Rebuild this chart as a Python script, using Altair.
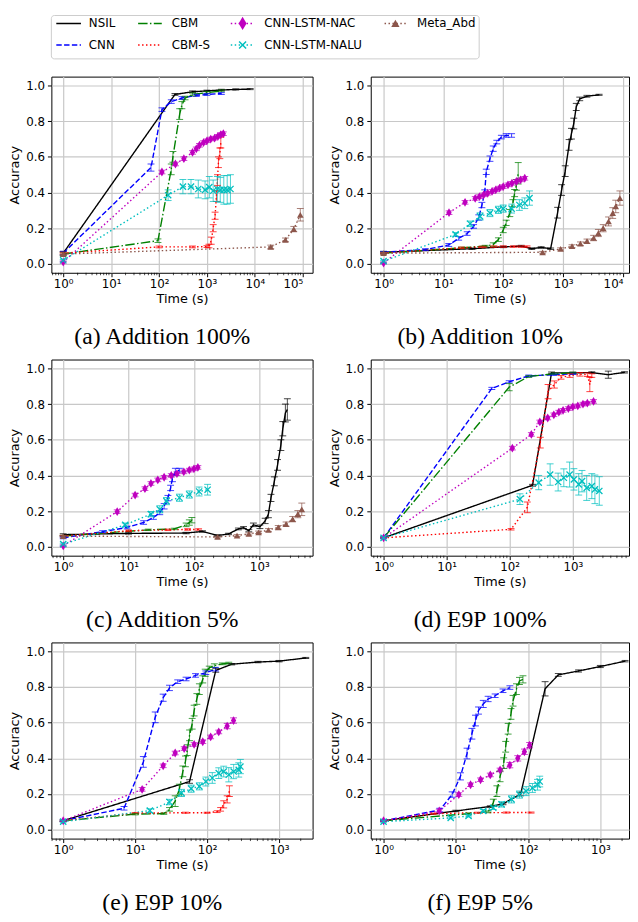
import altair as alt
import pandas as pd

# ---------------- series definitions ----------------
SERIES = ["NSIL", "CNN", "CBM", "CBM-S", "CNN-LSTM-NAC", "CNN-LSTM-NALU", "Meta_Abd"]
COLORS = ["#000000", "#0000ff", "#008000", "#ff0000", "#bf00bf", "#00bfbf", "#8c564b"]
DASHES = [[1, 0], [5.5, 2.4], [9.6, 2.4, 1.5, 2.4], [1.5, 2.5], [1.5, 2.5], [1.5, 2.5], [1.5, 2.5]]

# ---------------- data: (time s, accuracy, error) ----------------
A_NSIL = [(1, 0.06, 0.01), (215, 0.95, 0.005), (500, 0.965, 0.005), (1000, 0.97, 0.004), (2000, 0.975, 0.004), (4000, 0.978, 0.003), (8000, 0.98, 0.003)]
A_CNN = [(1, 0.06, 0.01), (68, 0.54, 0.02), (115, 0.865, 0.01), (180, 0.91, 0.01), (300, 0.93, 0.008), (600, 0.945, 0.006), (1000, 0.95, 0.005), (2000, 0.955, 0.005)]
A_CBM = [(1, 0.055, 0.01), (95, 0.13, 0.01), (180, 0.53, 0.03), (195, 0.60, 0.03), (270, 0.84, 0.03), (300, 0.89, 0.02), (350, 0.93, 0.01), (500, 0.95, 0.008), (1000, 0.96, 0.006), (2000, 0.97, 0.005)]
A_CBMS = [(1, 0.06, 0.005), (100, 0.095, 0.005), (500, 0.095, 0.005), (1000, 0.097, 0.005), (1100, 0.10, 0.01), (1230, 0.13, 0.02), (1350, 0.20, 0.02), (1480, 0.27, 0.02), (1580, 0.38, 0.03), (1660, 0.47, 0.03), (1740, 0.57, 0.03), (1860, 0.62, 0.03), (1950, 0.68, 0.03)]
A_NAC = [(1, 0.01, 0.005), (115, 0.515, 0.01), (220, 0.56, 0.01), (330, 0.59, 0.01), (500, 0.625, 0.01), (600, 0.645, 0.01), (700, 0.665, 0.01), (850, 0.68, 0.01), (1000, 0.69, 0.01), (1200, 0.70, 0.01), (1450, 0.705, 0.01), (1700, 0.715, 0.01), (1950, 0.725, 0.01), (2200, 0.73, 0.01)]
A_NALU = [(1, 0.02, 0.005), (155, 0.385, 0.03), (315, 0.433, 0.04), (465, 0.433, 0.04), (660, 0.42, 0.05), (915, 0.415, 0.05), (1120, 0.43, 0.06), (1350, 0.41, 0.06), (1650, 0.42, 0.07), (1900, 0.415, 0.07), (2250, 0.415, 0.08), (2650, 0.415, 0.08), (3100, 0.42, 0.08)]
A_META = [(1, 0.055, 0.005), (21500, 0.095, 0.01), (43500, 0.135, 0.01), (65000, 0.195, 0.015), (89000, 0.275, 0.035)]

B_NSIL = [(1, 0.065, 0.005), (30, 0.085, 0.004), (100, 0.095, 0.004), (200, 0.1, 0.004), (300, 0.085, 0.004), (430, 0.092, 0.004), (620, 0.085, 0.004), (810, 0.287, 0.03), (945, 0.414, 0.03), (1085, 0.52, 0.03), (1260, 0.667, 0.03), (1380, 0.73, 0.03), (1510, 0.787, 0.03), (1660, 0.88, 0.02), (1900, 0.925, 0.01), (2500, 0.94, 0.005), (4000, 0.948, 0.003)]
B_CNN = [(1, 0.065, 0.005), (5, 0.08, 0.005), (12.3, 0.106, 0.008), (18, 0.143, 0.01), (25, 0.17, 0.01), (32, 0.21, 0.01), (39, 0.26, 0.015), (44, 0.33, 0.015), (49, 0.40, 0.015), (52, 0.516, 0.015), (60, 0.59, 0.015), (68, 0.646, 0.015), (78, 0.683, 0.01), (93, 0.711, 0.01), (112, 0.72, 0.01), (138, 0.72, 0.01)]
B_CBM = [(1, 0.06, 0.005), (20, 0.09, 0.004), (50, 0.1, 0.004), (68, 0.108, 0.01), (83, 0.136, 0.01), (100, 0.19, 0.015), (112, 0.23, 0.015), (129, 0.285, 0.02), (145, 0.34, 0.02), (155, 0.397, 0.02), (166, 0.443, 0.03), (178, 0.508, 0.06)]
B_CBMS = [(1, 0.06, 0.004), (20, 0.09, 0.004), (45, 0.095, 0.004), (70, 0.097, 0.004), (100, 0.097, 0.004), (150, 0.097, 0.004), (200, 0.097, 0.004), (250, 0.097, 0.004)]
B_NAC = [(1, 0.005, 0.004), (12.4, 0.287, 0.01), (23, 0.345, 0.01), (34, 0.367, 0.01), (40, 0.377, 0.01), (47, 0.387, 0.01), (55, 0.396, 0.01), (65, 0.406, 0.01), (75, 0.415, 0.01), (87, 0.425, 0.01), (100, 0.433, 0.01), (120, 0.443, 0.01), (140, 0.452, 0.01), (166, 0.462, 0.01), (195, 0.471, 0.01), (229, 0.48, 0.01)]
B_NALU = [(1, 0.015, 0.005), (16, 0.165, 0.01), (28, 0.225, 0.015), (41, 0.266, 0.02), (60, 0.285, 0.02), (83, 0.303, 0.02), (100, 0.31, 0.02), (138, 0.31, 0.025), (186, 0.33, 0.03), (229, 0.34, 0.03), (275, 0.369, 0.04)]
B_META = [(1, 0.06, 0.004), (455, 0.065, 0.005), (910, 0.084, 0.006), (1410, 0.099, 0.008), (1950, 0.113, 0.01), (2510, 0.127, 0.012), (3240, 0.145, 0.015), (3890, 0.173, 0.02), (4680, 0.2, 0.02), (5750, 0.238, 0.025), (6760, 0.285, 0.03), (7590, 0.322, 0.035), (8910, 0.369, 0.04)]

C_NSIL = [(1, 0.068, 0.005), (10, 0.075, 0.004), (76, 0.077, 0.004), (135, 0.086, 0.004), (229, 0.063, 0.004), (339, 0.072, 0.004), (479, 0.1, 0.005), (575, 0.107, 0.006), (692, 0.09, 0.006), (813, 0.123, 0.01), (1023, 0.112, 0.01), (1230, 0.145, 0.015), (1380, 0.183, 0.02), (1510, 0.274, 0.02), (1700, 0.367, 0.025), (1905, 0.459, 0.03), (2140, 0.57, 0.03), (2290, 0.662, 0.04), (2510, 0.75, 0.05), (2690, 0.77, 0.06)]
C_CNN = [(1, 0.05, 0.005), (4, 0.085, 0.005), (9.5, 0.108, 0.008), (17, 0.136, 0.01), (24, 0.164, 0.01), (30, 0.19, 0.01), (35, 0.227, 0.015), (40, 0.273, 0.015), (44, 0.33, 0.015), (47, 0.385, 0.02), (52, 0.42, 0.02), (60, 0.43, 0.01)]
C_CBM = [(1, 0.06, 0.004), (20, 0.095, 0.004), (50, 0.1, 0.004), (76, 0.123, 0.01), (85, 0.136, 0.015), (93, 0.149, 0.015)]
C_CBMS = [(1, 0.06, 0.004), (10, 0.09, 0.004), (40, 0.095, 0.004), (80, 0.097, 0.004), (118, 0.097, 0.004)]
C_NAC = [(1, 0.005, 0.004), (6.7, 0.197, 0.01), (12.6, 0.29, 0.01), (17.8, 0.326, 0.01), (22, 0.355, 0.01), (28, 0.375, 0.01), (35, 0.39, 0.01), (45, 0.40, 0.01), (55, 0.41, 0.01), (70, 0.42, 0.01), (85, 0.43, 0.01), (100, 0.437, 0.01), (115, 0.445, 0.01)]
C_NALU = [(1, 0.015, 0.005), (8.9, 0.123, 0.01), (22, 0.183, 0.015), (30, 0.21, 0.02), (38, 0.256, 0.02), (60, 0.275, 0.02), (85, 0.293, 0.02), (120, 0.31, 0.025), (162, 0.32, 0.03)]
C_META = [(1, 0.06, 0.004), (230, 0.055, 0.005), (457, 0.063, 0.005), (692, 0.072, 0.006), (977, 0.081, 0.007), (1380, 0.094, 0.008), (1950, 0.109, 0.01), (2570, 0.127, 0.012), (3240, 0.155, 0.015), (3890, 0.183, 0.02), (4470, 0.21, 0.035)]

D_NSIL = [(1, 0.05, 0.004), (230, 0.345, 0.005), (460, 0.975, 0.005), (1000, 0.975, 0.004), (2000, 0.977, 0.004), (3650, 0.965, 0.02), (6600, 0.978, 0.004)]
D_CNN = [(1, 0.05, 0.004), (52, 0.888, 0.006), (98, 0.925, 0.006), (200, 0.958, 0.005), (500, 0.965, 0.004), (1000, 0.97, 0.004)]
D_CBM = [(1, 0.05, 0.004), (98, 0.895, 0.02), (200, 0.955, 0.005), (500, 0.97, 0.004), (1000, 0.975, 0.004)]
D_CBMS = [(1, 0.05, 0.004), (105, 0.098, 0.004), (190, 0.221, 0.03), (305, 0.584, 0.03), (405, 0.87, 0.04), (510, 0.91, 0.02), (650, 0.95, 0.01), (900, 0.96, 0.01), (1300, 0.967, 0.01), (1700, 0.965, 0.01), (1860, 0.91, 0.04), (2000, 0.96, 0.01)]
D_NAC = [(1, 0.05, 0.004), (110, 0.553, 0.01), (220, 0.63, 0.01), (300, 0.70, 0.01), (400, 0.722, 0.01), (500, 0.74, 0.01), (600, 0.755, 0.01), (700, 0.765, 0.01), (850, 0.775, 0.01), (1000, 0.785, 0.01), (1200, 0.79, 0.01), (1450, 0.80, 0.01), (1700, 0.805, 0.01), (2130, 0.815, 0.01)]
D_NALU = [(1, 0.05, 0.004), (145, 0.267, 0.03), (288, 0.36, 0.04), (437, 0.405, 0.06), (585, 0.363, 0.05), (720, 0.387, 0.05), (890, 0.405, 0.07), (1040, 0.378, 0.06), (1240, 0.35, 0.06), (1400, 0.368, 0.06), (1660, 0.33, 0.07), (2000, 0.34, 0.07), (2240, 0.322, 0.08), (2630, 0.313, 0.08)]

E_NSIL = [(1, 0.05, 0.004), (57, 0.27, 0.01), (132, 0.893, 0.01), (220, 0.928, 0.004), (510, 0.94, 0.004), (1000, 0.945, 0.004), (2350, 0.963, 0.003)]
E_CNN = [(1, 0.05, 0.004), (7, 0.12, 0.01), (13, 0.38, 0.03), (19, 0.63, 0.03), (24.5, 0.74, 0.02), (30, 0.795, 0.015), (39, 0.83, 0.01), (51, 0.845, 0.01), (69, 0.865, 0.01), (96, 0.88, 0.01), (131, 0.9, 0.01)]
E_CBM = [(1, 0.05, 0.004), (10, 0.087, 0.004), (25, 0.09, 0.004), (30, 0.114, 0.01), (36, 0.16, 0.03), (41, 0.225, 0.03), (46, 0.327, 0.03), (50, 0.383, 0.03), (53, 0.446, 0.03), (57, 0.529, 0.03), (62, 0.594, 0.03), (66, 0.668, 0.03), (72, 0.733, 0.03), (78, 0.788, 0.03), (87, 0.843, 0.02), (94, 0.88, 0.02), (107, 0.907, 0.01), (126, 0.92, 0.01), (162, 0.93, 0.005), (200, 0.934, 0.005)]
E_CBMS = [(1, 0.05, 0.004), (10, 0.093, 0.003), (50, 0.095, 0.003), (100, 0.095, 0.003), (138, 0.101, 0.005), (154, 0.114, 0.01), (170, 0.142, 0.02), (190, 0.17, 0.02), (204, 0.216, 0.03)]
E_NAC = [(1, 0.05, 0.004), (12.5, 0.226, 0.01), (24.5, 0.358, 0.01), (36, 0.43, 0.01), (48, 0.455, 0.01), (66, 0.478, 0.01), (87, 0.493, 0.01), (112, 0.52, 0.01), (145, 0.548, 0.01), (190, 0.581, 0.015), (233, 0.612, 0.015)]
E_NALU = [(1, 0.045, 0.004), (16, 0.107, 0.01), (30, 0.155, 0.015), (44, 0.206, 0.02), (60, 0.23, 0.02), (78, 0.243, 0.02), (96, 0.27, 0.025), (118, 0.29, 0.03), (145, 0.317, 0.03), (170, 0.326, 0.03), (200, 0.308, 0.04), (234, 0.326, 0.04), (275, 0.335, 0.04), (290, 0.354, 0.04)]

F_NSIL = [(1, 0.05, 0.004), (10, 0.105, 0.004), (30, 0.13, 0.004), (45, 0.145, 0.005), (79, 0.2, 0.01), (172, 0.79, 0.04), (262, 0.868, 0.008), (500, 0.89, 0.006), (1000, 0.915, 0.006), (2200, 0.945, 0.004)]
F_CNN = [(1, 0.05, 0.004), (6, 0.11, 0.01), (8.9, 0.197, 0.015), (11.6, 0.299, 0.02), (14.3, 0.427, 0.03), (16.7, 0.538, 0.03), (18.7, 0.612, 0.03), (20.6, 0.668, 0.02), (24, 0.705, 0.02), (28, 0.733, 0.015), (35, 0.751, 0.01), (45, 0.779, 0.01), (56, 0.797, 0.01)]
F_CBM = [(1, 0.05, 0.004), (15, 0.09, 0.004), (28, 0.1, 0.005), (33, 0.151, 0.02), (37, 0.216, 0.03), (41, 0.299, 0.03), (46, 0.373, 0.03), (49, 0.465, 0.03), (53, 0.566, 0.03), (58, 0.649, 0.03), (62, 0.723, 0.03), (69, 0.788, 0.03), (76, 0.834, 0.02), (85, 0.843, 0.02)]
F_CBMS = [(1, 0.05, 0.003), (5, 0.09, 0.003), (20, 0.095, 0.003), (50, 0.096, 0.003), (110, 0.096, 0.003)]
F_NAC = [(1, 0.05, 0.004), (5.9, 0.105, 0.01), (11, 0.197, 0.01), (16, 0.252, 0.01), (22, 0.28, 0.01), (30, 0.307, 0.01), (41, 0.335, 0.01), (56, 0.362, 0.015), (72, 0.4, 0.015), (89, 0.437, 0.015), (105, 0.474, 0.015)]
F_NALU = [(1, 0.045, 0.004), (8.5, 0.066, 0.005), (15, 0.077, 0.006), (24, 0.105, 0.008), (33, 0.123, 0.01), (43, 0.142, 0.015), (59, 0.17, 0.02), (76, 0.197, 0.02), (94, 0.216, 0.025), (115, 0.234, 0.025), (135, 0.252, 0.03), (145, 0.27, 0.03)]

CAPTIONS = ["(a) Addition 100%", "(b) Addition 10%", "(c) Addition 5%", "(d) E9P 100%", "(e) E9P 10%", "(f) E9P 5%"]
PANEL_DATA = [
    [A_NSIL, A_CNN, A_CBM, A_CBMS, A_NAC, A_NALU, A_META],
    [B_NSIL, B_CNN, B_CBM, B_CBMS, B_NAC, B_NALU, B_META],
    [C_NSIL, C_CNN, C_CBM, C_CBMS, C_NAC, C_NALU, C_META],
    [D_NSIL, D_CNN, D_CBM, D_CBMS, D_NAC, D_NALU, []],
    [E_NSIL, E_CNN, E_CBM, E_CBMS, E_NAC, E_NALU, []],
    [F_NSIL, F_CNN, F_CBM, F_CBMS, F_NAC, F_NALU, []],
]
# axis limits (log x) per panel
XDOMS = [[0.566, 160600], [0.611, 12650], [0.659, 6546], [0.626, 7780], [0.685, 2923], [0.665, 2495]]

# ---------------- layout ----------------
LEFT_W, RIGHT_W, H = 265, 262, 199
DIAMOND = "M0,-1L0.6,0L0,1L-0.6,0Z"
XMARK = "M-1,-1L1,1M-1,1L1,-1"
SUP = "['\u2070','\u00b9','\u00b2','\u00b3','\u2074','\u2075','\u2076']"

COLOR_SCALE = alt.Scale(domain=SERIES, range=COLORS)
DASH_SCALE = alt.Scale(domain=SERIES, range=DASHES)

# legend layout (pixels relative to panel (a) plot origin)
LEG_ROW = [0, 1, 0, 1, 0, 1, 0]
LEG_COL = [0, 0, 1, 1, 2, 2, 3]
COL_X0 = [5, 88, 182, 338]
COL_X1 = [30, 112, 206, 360]
COL_XT = [38, 122, 216, 371]
ROW_Y = [-54, -32]
LEG_BOX = (0, 434, -62, -18)
LEG_MARK = {"CNN-LSTM-NAC": (DIAMOND, 180, True), "CNN-LSTM-NALU": (XMARK, 50, False), "Meta_Abd": ("triangle-up", 70, True)}


def make_df(lists):
    rows = []
    for name, pts in zip(SERIES, lists):
        for i, (t, a, e) in enumerate(pts):
            rows.append(dict(series=name, t=t, acc=a, lo=a - e, hi=a + e, e=e, idx=i))
    return pd.DataFrame(rows)


def legend_layers():
    layers = [alt.Chart(pd.DataFrame({"k": [0]})).mark_rect(
        fill="white", stroke="#cccccc", strokeWidth=1, cornerRadius=3).encode(
        x=alt.value(LEG_BOX[0]), x2=alt.value(LEG_BOX[1]), y=alt.value(LEG_BOX[2]), y2=alt.value(LEG_BOX[3]))]
    for i, name in enumerate(SERIES):
        c, r = LEG_COL[i], LEG_ROW[i]
        src = alt.Chart(pd.DataFrame({"series": [name]}))
        layers.append(src.mark_rule(color=COLORS[i], strokeDash=DASHES[i], strokeWidth=1.5).encode(
            x=alt.value(COL_X0[c]), x2=alt.value(COL_X1[c]), y=alt.value(ROW_Y[r])))
        if name in LEG_MARK:
            shp, sz, fl = LEG_MARK[name]
            layers.append(src.mark_point(shape=shp, size=sz, filled=fl, color=COLORS[i], opacity=1,
                                         strokeWidth=1.5).encode(
                x=alt.value((COL_X0[c] + COL_X1[c]) / 2), y=alt.value(ROW_Y[r])))
        layers.append(src.mark_text(align="left", baseline="middle", font="DejaVu Sans", fontSize=12,
                                    color="black").encode(
            x=alt.value(COL_XT[c]), y=alt.value(ROW_Y[r]), text="series:N"))
    return layers


def panel(k, width):
    df = make_df(PANEL_DATA[k])
    lo, hi = XDOMS[k]
    majors = [10 ** p for p in range(0, 7) if lo <= 10 ** p <= hi]
    minors = [m * 10 ** p for p in range(-1, 6) for m in range(2, 10) if lo <= m * 10 ** p <= hi]
    xs = alt.Scale(type="log", domain=[lo, hi], nice=False)
    xa = alt.Axis(values=majors, labelExpr="'10' + " + SUP + "[round(log(datum.value)/LN10)]",
                  grid=True, tickSize=4, labelPadding=2, labelFlush=10, titlePadding=3,
                  labelOverlap=False)
    ys = alt.Scale(domain=[-0.05, 1.05], nice=False, zero=False)
    ya = alt.Axis(values=[0, 0.2, 0.4, 0.6, 0.8, 1.0], format=".1f", grid=True, tickSize=4,
                  labelPadding=3, titlePadding=4)

    def X(f):
        return alt.X(f, scale=xs, axis=xa, title="Time (s)")

    def Y(f):
        return alt.Y(f, scale=ys, axis=ya, title="Accuracy")

    color = alt.Color("series:N", scale=COLOR_SCALE, legend=None)
    dash = alt.StrokeDash("series:N", scale=DASH_SCALE, legend=None)
    base = alt.Chart(df)

    lines = base.mark_line(strokeWidth=1.4).encode(
        x=X("t:Q"), y=Y("acc:Q"), color=color, strokeDash=dash, order="idx:Q")
    bars = base.mark_rule(strokeWidth=1, opacity=0.7).encode(
        x=X("t:Q"), y=Y("lo:Q"), y2="hi:Q", color=color)
    cap_lo = base.mark_tick(orient="horizontal", size=7, thickness=1, opacity=0.75).encode(
        x=X("t:Q"), y=Y("lo:Q"), color=color)
    cap_hi = base.mark_tick(orient="horizontal", size=7, thickness=1, opacity=0.75).encode(
        x=X("t:Q"), y=Y("hi:Q"), color=color)
    nac = base.transform_filter(alt.datum.series == "CNN-LSTM-NAC").mark_point(
        shape=DIAMOND, size=80, filled=True, opacity=1).encode(x=X("t:Q"), y=Y("acc:Q"), color=color)
    nalu = base.transform_filter(alt.datum.series == "CNN-LSTM-NALU").mark_point(
        shape=XMARK, size=40, filled=False, strokeWidth=1.3, opacity=1).encode(x=X("t:Q"), y=Y("acc:Q"), color=color)
    meta = base.transform_filter(alt.datum.series == "Meta_Abd").mark_point(
        shape="triangle-up", size=45, filled=True, opacity=1).encode(x=X("t:Q"), y=Y("acc:Q"), color=color)
    minor = alt.Chart(pd.DataFrame({"t": minors})).mark_rule(color="black", strokeWidth=0.7).encode(
        x=X("t:Q"), y=alt.value(H), y2=alt.value(H + 2.5))

    layers = [lines, bars, cap_lo, cap_hi, nac, nalu, meta, minor]
    if k == 0:
        layers += legend_layers()
    return alt.layer(*layers).properties(
        width=width, height=H,
        title=alt.TitleParams(CAPTIONS[k], orient="bottom", anchor="middle", frame="group", dx=-20,
                              font="Liberation Serif", fontSize=24, fontWeight="normal",
                              color="black", offset=20))


# ---------------- assemble (flush bounds: spacing = gap between plot areas) ----------------
panels = [panel(k, LEFT_W if k % 2 == 0 else RIGHT_W) for k in range(6)]
chart = alt.concat(*panels, columns=2, bounds="flush",
                   spacing={"row": 88, "column": 59}).properties(
    padding=0, background="white"
).configure_view(stroke="black", strokeWidth=1).configure_axis(
    labelFont="DejaVu Sans", titleFont="DejaVu Sans", labelFontSize=12, titleFontSize=13,
    labelColor="black", titleColor="black", tickColor="black", domain=False,
    gridColor="#c8c8c8", gridWidth=1.2, titleFontWeight="normal"
)

chart.save("out.html", embed_options={"renderer": "svg", "actions": False})
